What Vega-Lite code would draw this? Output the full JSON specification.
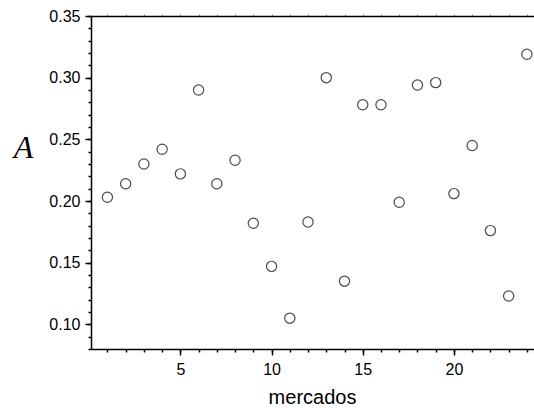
{
  "$schema": "https://vega.github.io/schema/vega-lite/v6.json",
  "width": 445,
  "height": 333,
  "autosize": {"type": "none"},
  "padding": {"left": 91, "top": 16, "right": 0, "bottom": 59},
  "background": "white",
  "config": {
    "view": {"stroke": null},
    "axis": {
      "grid": false,
      "labelFont": "Liberation Sans",
      "labelFontSize": 16,
      "labelColor": "black",
      "titleFont": "Liberation Sans",
      "titleColor": "black",
      "titleFontWeight": "normal",
      "domainColor": "black",
      "tickColor": "black",
      "domainWidth": 1.5,
      "tickWidth": 1.5
    }
  },
  "data": {
    "values": [
      {"mercado": 1, "A": 0.203},
      {"mercado": 2, "A": 0.214},
      {"mercado": 3, "A": 0.230},
      {"mercado": 4, "A": 0.242},
      {"mercado": 5, "A": 0.222},
      {"mercado": 6, "A": 0.290},
      {"mercado": 7, "A": 0.214},
      {"mercado": 8, "A": 0.233},
      {"mercado": 9, "A": 0.182},
      {"mercado": 10, "A": 0.147},
      {"mercado": 11, "A": 0.105},
      {"mercado": 12, "A": 0.183},
      {"mercado": 13, "A": 0.300},
      {"mercado": 14, "A": 0.135},
      {"mercado": 15, "A": 0.278},
      {"mercado": 16, "A": 0.278},
      {"mercado": 17, "A": 0.199},
      {"mercado": 18, "A": 0.294},
      {"mercado": 19, "A": 0.296},
      {"mercado": 20, "A": 0.206},
      {"mercado": 21, "A": 0.245},
      {"mercado": 22, "A": 0.176},
      {"mercado": 23, "A": 0.123},
      {"mercado": 24, "A": 0.319}
    ]
  },
  "layer": [
    {
      "mark": {"type": "point", "shape": "circle", "filled": false, "stroke": "black", "strokeWidth": 1.2, "size": 105},
      "encoding": {
        "x": {
          "field": "mercado", "type": "quantitative",
          "scale": {"domain": [0.1, 24.5], "nice": false, "zero": false},
          "axis": {"orient": "bottom", "values": [5, 10, 15, 20], "tickSize": 6, "labelPadding": 19, "labelBaseline": "alphabetic",
                   "title": "mercados", "titleFontSize": 20, "titleX": 221, "titleY": 54, "titleBaseline": "alphabetic", "titleAlign": "center"}
        },
        "y": {
          "field": "A", "type": "quantitative",
          "scale": {"domain": [0.08, 0.35], "nice": false, "zero": false},
          "axis": {"orient": "left", "values": [0.10, 0.15, 0.20, 0.25, 0.30, 0.35], "format": ".2f", "tickSize": 6, "labelPadding": 5,
                   "title": "A", "titleFont": "Liberation Serif", "titleFontStyle": "italic", "titleFontSize": 32,
                   "titleAngle": 0, "titleX": -68, "titleY": 131, "titleAlign": "center", "titleBaseline": "middle"}
        }
      }
    },
    {
      "mark": {"type": "point", "opacity": 0},
      "encoding": {
        "x": {
          "field": "mercado", "type": "quantitative",
          "scale": {"domain": [0.1, 24.5], "nice": false, "zero": false},
          "axis": {"orient": "bottom", "values": [1,2,3,4,5,6,7,8,9,10,11,12,13,14,15,16,17,18,19,20,21,22,23,24], "tickSize": 3, "labels": false, "domain": false, "title": null}
        },
        "y": {
          "field": "A", "type": "quantitative",
          "scale": {"domain": [0.08, 0.35], "nice": false, "zero": false},
          "axis": {"orient": "left", "values": [0.08,0.09,0.10,0.11,0.12,0.13,0.14,0.15,0.16,0.17,0.18,0.19,0.20,0.21,0.22,0.23,0.24,0.25,0.26,0.27,0.28,0.29,0.30,0.31,0.32,0.33,0.34,0.35], "tickSize": 3, "labels": false, "domain": false, "title": null}
        }
      }
    },
    {
      "mark": {"type": "point", "opacity": 0},
      "encoding": {
        "x": {
          "field": "mercado", "type": "quantitative",
          "scale": {"domain": [0.1, 24.5], "nice": false, "zero": false},
          "axis": {"orient": "top", "values": [1,2,3,4,5,6,7,8,9,10,11,12,13,14,15,16,17,18,19,20,21,22,23,24], "tickSize": 2, "tickColor": "#999999", "tickWidth": 1, "labels": false, "title": null}
        },
        "y": {
          "field": "A", "type": "quantitative",
          "scale": {"domain": [0.08, 0.35], "nice": false, "zero": false},
          "axis": null
        }
      }
    }
  ],
  "resolve": {"axis": {"x": "independent", "y": "independent"}}
}
